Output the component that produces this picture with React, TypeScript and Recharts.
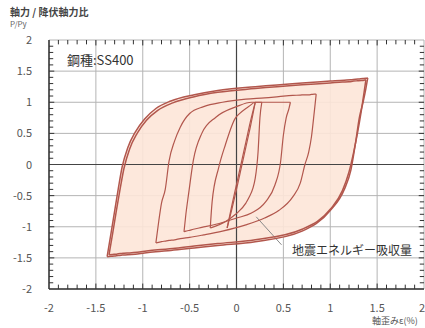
import React from "react";
import {
  ComposedChart,
  Area,
  Line,
  XAxis,
  YAxis,
  CartesianGrid,
  ReferenceLine,
} from "recharts";

// outer loop, 1st cycle (strain %, P/Py on rising and falling branch)
const outer1X = [-1.38, -1.34, -1.3, -1.26, -1.22, -1.16, -1.08, -0.98, -0.86, -0.7, -0.45, -0.2, 0.2, 0.7, 1.0, 1.15, 1.22, 1.27, 1.31, 1.35, 1.38, 1.4];
const outer1Up = [-1.48, -1.12, -0.75, -0.38, -0.04, 0.27, 0.52, 0.73, 0.9, 1.02, 1.12, 1.19, 1.25, 1.31, 1.34, 1.355, 1.36, 1.37, 1.375, 1.38, 1.385, 1.39];
const outer1Down = [-1.48, -1.475, -1.47, -1.46, -1.455, -1.45, -1.44, -1.42, -1.4, -1.38, -1.34, -1.3, -1.24, -1.07, -0.74, -0.4, -0.09, 0.35, 0.75, 1.0, 1.22, 1.39];

// outer loop, 2nd cycle
const outer2X = [-1.36, -1.32, -1.28, -1.24, -1.2, -1.14, -1.06, -0.96, -0.84, -0.68, -0.45, -0.2, 0.2, 0.7, 1.0, 1.13, 1.2, 1.25, 1.29, 1.33, 1.36, 1.38];
const outer2Up = [-1.45, -1.1, -0.73, -0.38, -0.06, 0.25, 0.5, 0.71, 0.87, 0.99, 1.09, 1.16, 1.22, 1.28, 1.31, 1.325, 1.33, 1.34, 1.345, 1.35, 1.355, 1.36];
const outer2Down = [-1.45, -1.445, -1.44, -1.43, -1.425, -1.42, -1.41, -1.39, -1.37, -1.35, -1.31, -1.27, -1.21, -1.04, -0.72, -0.42, -0.12, 0.2, 0.5, 0.85, 1.15, 1.36];

// ±0.85% loop
const loop4X = [-0.86, -0.83, -0.8, -0.76, -0.72, -0.66, -0.6, -0.5, -0.35, -0.15, 0.1, 0.3, 0.45, 0.6, 0.68, 0.73, 0.77, 0.8, 0.83, 0.85];
const loop4Up = [-1.26, -0.92, -0.62, -0.4, 0.05, 0.38, 0.6, 0.82, 0.93, 1.0, 1.05, 1.07, 1.09, 1.11, 1.115, 1.12, 1.12, 1.125, 1.13, 1.13];
const loop4Down = [-1.26, -1.25, -1.24, -1.23, -1.22, -1.21, -1.19, -1.17, -1.13, -1.07, -0.97, -0.86, -0.74, -0.52, -0.3, 0.0, 0.2, 0.45, 0.85, 1.13];

// ±0.57% loop
const loop3X = [-0.56, -0.54, -0.51, -0.46, -0.37, -0.22, 0.0, 0.16, 0.31, 0.41, 0.47, 0.5, 0.53, 0.56, 0.575];
const loop3Up = [-1.08, -0.8, -0.46, 0.07, 0.5, 0.76, 0.93, 1.0, 1.0, 1.0, 1.0, 1.0, 1.0, 1.0, 1.0];
const loop3Down = [-1.08, -1.07, -1.06, -1.04, -1.01, -0.96, -0.86, -0.78, -0.6, -0.33, 0.04, 0.47, 0.75, 0.9, 1.0];

// ±0.27% loop
const loop2X = [-0.28, -0.26, -0.19, -0.12, -0.01, 0.02, 0.1, 0.13, 0.2, 0.23, 0.25, 0.27];
const loop2Up = [-1.02, -0.6, -0.05, 0.31, 0.75, 0.8, 0.9, 0.93, 1.0, 1.0, 1.0, 1.0];
const loop2Down = [-1.02, -1.01, -0.97, -0.92, -0.8, -0.76, -0.62, -0.54, -0.22, 0.2, 0.75, 1.0];

// almost elastic loop
const loop1X = [-0.1, -0.05, 0.0, 0.05, 0.1, 0.15, 0.2];
const loop1Up = [-1.02, -0.66, -0.32, 0.02, 0.36, 0.7, 1.0];
const loop1Down = [-1.02, -0.72, -0.4, -0.06, 0.28, 0.62, 1.0];

const majorTicks = [-2, -1.5, -1, -0.5, 0, 0.5, 1, 1.5, 2];
const minorTicks = Array.from({ length: 41 }, (_, i) => Math.round((-2 + i * 0.1) * 10) / 10);

const toRows = (xs: number[], up: number[], down: number[]) =>
  xs.map((x, i) => ({ x, up: up[i], down: down[i] }));

const outer1 = toRows(outer1X, outer1Up, outer1Down);
const loops = [
  outer1,
  toRows(outer2X, outer2Up, outer2Down),
  toRows(loop4X, loop4Up, loop4Down),
  toRows(loop3X, loop3Up, loop3Down),
  toRows(loop2X, loop2Up, loop2Down),
  toRows(loop1X, loop1Up, loop1Down),
];

const STROKE = "#b2574d";
const AXIS = "#333";
const FONT = "'Noto Sans CJK JP', 'Noto Sans', sans-serif";

const isMajor = (v: number) => majorTicks.some((m) => Math.abs(m - v) < 1e-6);

// small inward tick marks on the four sides of the frame (lengths in axis units)
const TX = 0.045;
const TY = 0.07;
const frameTicks = minorTicks
  .filter((v) => Math.abs(v) < 1.99)
  .flatMap((v) => {
    const k = isMajor(v) ? 1.25 : 1;
    return [
      [{ x: v, y: -2 }, { x: v, y: -2 + TY * k }],
      [{ x: v, y: 2 }, { x: v, y: 2 - TY * k }],
      [{ x: -2, y: v }, { x: -2 + TX * k, y: v }],
      [{ x: 2, y: v }, { x: 2 - TX * k, y: v }],
    ];
  });

const xLabel = (props: any) => {
  const { x, y, payload } = props;
  const v = payload.value as number;
  if (!isMajor(v)) return <g />;
  const last = v === 2;
  return (
    <text x={last ? x + 1 : x} y={y + 23} textAnchor={last ? "end" : "middle"} fill="#555" fontSize={11} fontFamily={FONT}>
      {String(v)}
    </text>
  );
};

const yLabel = (props: any) => {
  const { x, y, payload } = props;
  const v = payload.value as number;
  if (!isMajor(v)) return <g />;
  return (
    <text x={x - 17} y={y + 4} textAnchor="end" fill="#555" fontSize={11} fontFamily={FONT}>
      {String(v)}
    </text>
  );
};

const App = () => {
  return (
    <div style={{ position: "absolute", left: 0, top: 0, width: 425, height: 328, background: "#fff" }}>
      <ComposedChart
        width={425}
        height={328}
        margin={{ top: 40, right: 1, left: 0, bottom: 0 }}
      >
        <CartesianGrid
          stroke="#b4b4b4"
          fill="none"
          verticalValues={majorTicks}
          horizontalValues={majorTicks}
        />
        <XAxis
          type="number"
          dataKey="x"
          domain={[-2, 2]}
          ticks={minorTicks}
          interval={0}
          height={39}
          tickSize={0}
          tickMargin={0}
          tickLine={false}
          tick={xLabel}
          axisLine={{ stroke: AXIS, strokeWidth: 1.5 }}
        />
        <XAxis
          xAxisId="top"
          orientation="top"
          type="number"
          domain={[-2, 2]}
          height={0}
          tick={false}
          tickLine={false}
          axisLine={{ stroke: AXIS, strokeWidth: 1.5 }}
        />
        <YAxis
          type="number"
          domain={[-2, 2]}
          ticks={minorTicks}
          interval={0}
          width={49}
          tickSize={0}
          tickMargin={0}
          tickLine={false}
          tick={yLabel}
          axisLine={{ stroke: AXIS, strokeWidth: 1.5 }}
        />
        <YAxis
          yAxisId="r"
          orientation="right"
          type="number"
          domain={[-2, 2]}
          width={0}
          tick={false}
          tickLine={false}
          axisLine={{ stroke: AXIS, strokeWidth: 1.5 }}
        />
        <Area
          data={outer1}
          dataKey={(d: { down: number; up: number }) => [d.down, d.up]}
          type="monotone"
          stroke="none"
          fill="#fde6d8"
          fillOpacity={0.9}
          isAnimationActive={false}
        />
        {frameTicks.map((seg, i) => (
          <ReferenceLine key={`t${i}`} segment={seg} stroke={AXIS} strokeWidth={1} />
        ))}
        <ReferenceLine x={0} stroke="#444" strokeWidth={1.2} />
        <ReferenceLine y={0} stroke="#444" strokeWidth={1.2} />
        <ReferenceLine
          segment={[
            { x: 0.48, y: -1.29 },
            { x: 0.21, y: -0.84 },
          ]}
          stroke="#888"
          strokeWidth={1}
        />
        {loops.map((rows, i) =>
          ["up", "down"].map((k) => (
            <Line
              key={`${i}-${k}`}
              data={rows}
              dataKey={k}
              type="monotone"
              stroke={STROKE}
              strokeWidth={i < 2 ? 1.5 : 1.2}
              dot={false}
              activeDot={false}
              isAnimationActive={false}
            />
          ))
        )}
      </ComposedChart>
      <div style={{ position: "absolute", left: 10, top: 6, fontSize: 10, lineHeight: "11px", fontWeight: 700, color: "#444", fontFamily: FONT, whiteSpace: "nowrap" }}>
        軸力 / 降伏軸力比
      </div>
      <div style={{ position: "absolute", left: 10, top: 20, fontSize: 8, lineHeight: "8px", color: "#666", fontFamily: FONT }}>
        P/Py
      </div>
      <div style={{ position: "absolute", left: 67, top: 50, fontSize: 13, color: "#333", fontFamily: FONT, whiteSpace: "nowrap" }}>
        鋼種:SS400
      </div>
      <div style={{ position: "absolute", left: 292, top: 241, fontSize: 12, color: "#333", fontFamily: FONT, whiteSpace: "nowrap" }}>
        地震エネルギー吸収量
      </div>
      <div style={{ position: "absolute", left: 372, top: 316, fontSize: 9, lineHeight: "10px", color: "#555", fontFamily: FONT, whiteSpace: "nowrap" }}>
        軸歪みε(%)
      </div>
    </div>
  );
};

export default App;
